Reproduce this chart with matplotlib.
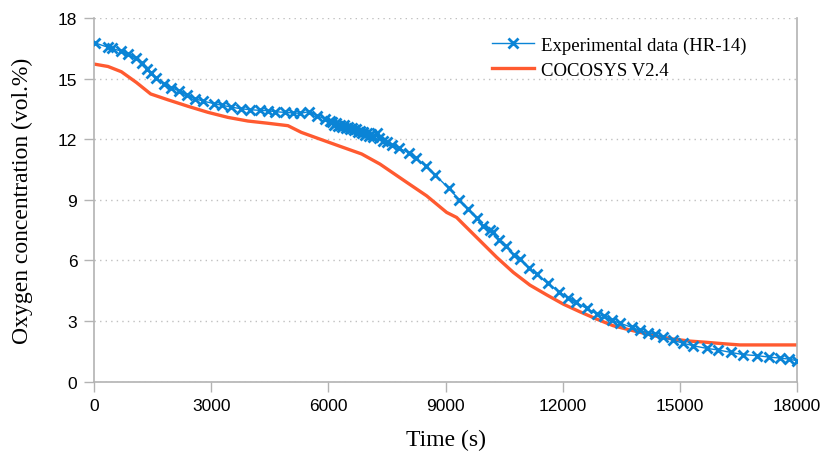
import matplotlib
matplotlib.use("Agg")
import matplotlib.pyplot as plt

exp_t = [35, 358, 461, 700, 870, 1067, 1237, 1365, 1467, 1595, 1792, 1980, 2176, 2389,
         2594, 2790, 3072, 3277, 3516, 3755, 3994, 4242, 4454, 4642, 4882, 5094, 5282,
         5496, 5716, 5921, 6033, 6100, 6150, 6200, 6250, 6300, 6350, 6400, 6450, 6500,
         6550, 6600, 6650, 6700, 6750, 6800, 6850, 6900, 6950, 7000, 7050, 7100, 7150,
         7236, 7300, 7390, 7509, 7620, 7808, 8072, 8243, 8499, 8730, 9088, 9352, 9566,
         9797, 9966, 10138, 10206, 10368, 10539, 10760, 10906, 11144, 11333, 11615,
         11912, 12142, 12339, 12613, 12869, 13056, 13251, 13466, 13765, 13978, 14175,
         14362, 14559, 14815, 15071, 15344, 15687, 15983, 16308, 16623, 16981, 17273,
         17562, 17785, 18000]
exp_v = [16.76, 16.55, 16.5, 16.35, 16.2, 16.02, 15.75, 15.47, 15.26, 15.01, 14.75, 14.55,
         14.4, 14.17, 14.0, 13.89, 13.76, 13.68, 13.59, 13.51, 13.46, 13.43, 13.41, 13.36,
         13.33, 13.3, 13.28, 13.36, 13.16, 13.0, 12.91, 12.85, 12.7, 12.78, 12.65, 12.72,
         12.6, 12.68, 12.55, 12.62, 12.5, 12.55, 12.45, 12.5, 12.38, 12.42, 12.3, 12.35,
         12.22, 12.3, 12.15, 12.25, 12.1, 12.29, 12.05, 11.93, 11.88, 11.73, 11.56, 11.32,
         11.05, 10.66, 10.23, 9.57, 9.0, 8.55, 8.1, 7.72, 7.5, 7.39, 7.03, 6.7, 6.27,
         6.07, 5.61, 5.31, 4.87, 4.45, 4.14, 3.93, 3.63, 3.36, 3.24, 3.04, 2.9, 2.69,
         2.54, 2.43, 2.36, 2.2, 2.06, 1.91, 1.78, 1.65, 1.57, 1.45, 1.34, 1.29, 1.22,
         1.17, 1.12, 1.04]

sim_t = [0, 358, 700, 1084, 1450, 1894, 2406, 2918, 3430, 3942, 4454, 4966, 5307, 5735,
         6298, 6853, 7322, 8004, 8516, 9028, 9284, 9454, 9882, 10309, 10736, 11162,
         11589, 12016, 12442, 12869, 13296, 13704, 14405, 14831, 15258, 15685, 16111,
         16538, 16965, 18000]
sim_v = [15.72, 15.6, 15.34, 14.81, 14.24, 13.95, 13.63, 13.33, 13.08, 12.9, 12.79, 12.67,
         12.34, 12.04, 11.65, 11.27, 10.77, 9.87, 9.2, 8.38, 8.13, 7.8, 6.98, 6.16, 5.41,
         4.78, 4.3, 3.84, 3.46, 3.1, 2.77, 2.57, 2.25, 2.11, 2.01, 1.95, 1.88, 1.82,
         1.82, 1.82]

x_ticks = [0, 3000, 6000, 9000, 12000, 15000, 18000]
y_ticks = [0, 3, 6, 9, 12, 15, 18]

fig = plt.figure(figsize=(8.27, 4.52), dpi=100)
ax = fig.add_axes([0.1137, 0.1533, 0.85, 0.8047])

ax.plot(exp_t, exp_v, color='#0a84d6', lw=1.0, marker='x', ms=6.5, mew=2.0,
        label='Experimental data (HR-14)', zorder=3)
ax.plot(sim_t, sim_v, color='#ff5a30', lw=2.4, label='COCOSYS V2.4', zorder=2)

ax.set_xlim(0, 18000)
ax.set_ylim(0, 18)
ax.set_xticks(x_ticks)
ax.set_yticks(y_ticks)
ax.set_xticklabels([str(v) for v in x_ticks], fontfamily='Liberation Sans', fontsize=12.5)
ax.set_yticklabels([str(v) for v in y_ticks], fontfamily='Liberation Sans', fontsize=12.5)

ax.yaxis.grid(True, color='#c0c0c0', linestyle=(0, (1, 3)), lw=1.0)
for s in ['left', 'bottom', 'right']:
    ax.spines[s].set_color('#b3b3b3')
    ax.spines[s].set_linewidth(1.2)
ax.spines['top'].set_visible(False)
ax.tick_params(axis='both', direction='out', length=7, width=1.0,
               color='#b3b3b3', labelcolor='black', pad=5)

ax.set_xlabel('Time (s)', fontfamily='Liberation Serif', fontsize=17, labelpad=11)
ax.set_ylabel('Oxygen concentration (vol.%)', fontfamily='Liberation Serif', fontsize=17,
              labelpad=18)

leg = ax.legend(loc='upper right', frameon=False, prop={'family': 'Liberation Serif', 'size': 13.5},
                handlelength=2.2, handletextpad=0.4, borderaxespad=0.6, labelspacing=0.4,
                bbox_to_anchor=(0.955, 1.0))

fig.savefig('out.png', dpi=100)
